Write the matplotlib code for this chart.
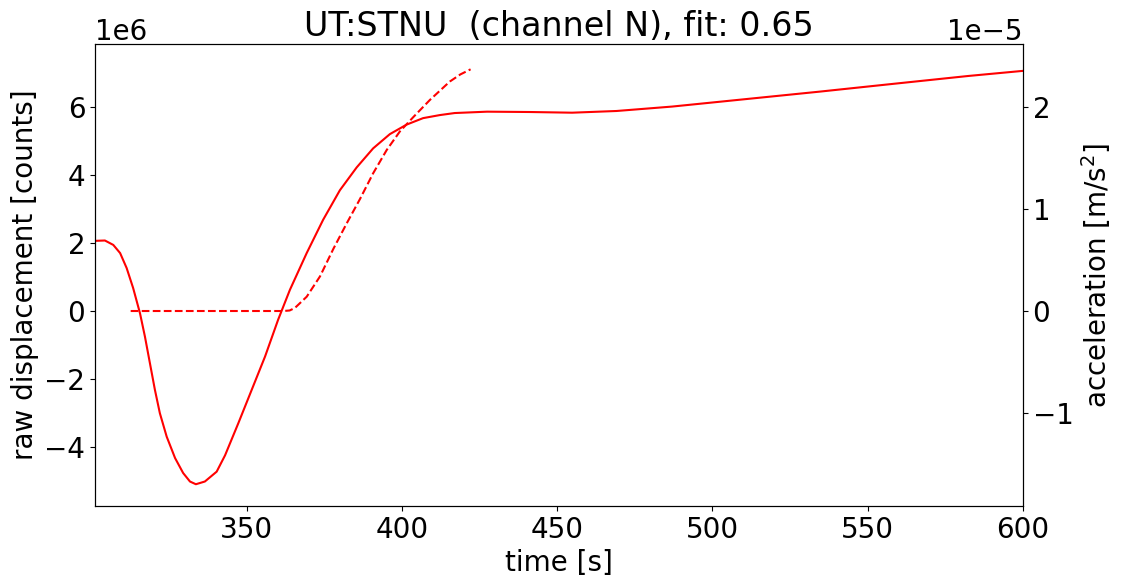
import matplotlib
matplotlib.use("Agg")
import numpy as np
import matplotlib.pyplot as plt

# --- DATA ---
# raw displacement trace, counts
disp_time = [301.1, 304.3, 307.0, 309.2, 311.3, 313.4, 315.6, 317.2, 318.8,
             320.4, 322.0, 324.2, 326.9, 329.5, 331.7, 333.6, 336.5, 340.3,
             343.0, 347.3, 351.6, 355.9, 360.1, 363.9, 369.3, 374.6, 380.0,
             385.4, 390.7, 396.1, 401.5, 406.8, 412.2, 417.0, 427.4, 441.2,
             454.8, 469.1, 487.0, 510.8, 534.6, 558.4, 582.4, 600.0]
disp_counts = [2.06e6, 2.07e6, 1.94e6, 1.70e6, 1.26e6, 0.67e6, -0.07e6,
               -0.76e6, -1.54e6, -2.32e6, -3.01e6, -3.70e6, -4.33e6, -4.77e6,
               -5.02e6, -5.10e6, -5.02e6, -4.73e6, -4.25e6, -3.30e6, -2.32e6,
               -1.34e6, -0.26e6, 0.62e6, 1.70e6, 2.68e6, 3.55e6, 4.22e6,
               4.78e6, 5.20e6, 5.48e6, 5.67e6, 5.76e6, 5.82e6, 5.86e6, 5.85e6,
               5.83e6, 5.88e6, 6.01e6, 6.23e6, 6.45e6, 6.68e6, 6.91e6, 7.06e6]

# fitted acceleration, m/s^2
acc_time = [312.6, 361.8, 363.8, 365.5, 369.3, 373.6, 377.9, 382.2, 386.5,
            390.7, 395.1, 399.3, 403.6, 409.0, 415.4, 418.8, 422.1]
acc_vals = [0.0, 0.0, 0.005e-5, 0.03e-5, 0.14e-5, 0.34e-5, 0.61e-5, 0.86e-5,
            1.10e-5, 1.35e-5, 1.58e-5, 1.76e-5, 1.90e-5, 2.07e-5, 2.25e-5,
            2.32e-5, 2.37e-5]

station = "UT:STNU"
channel = "N"
fit = 0.65

# --- PLOT ---
plt.rcParams['font.size'] = 20

fig, ax1 = plt.subplots(figsize=(11.24, 5.87), dpi=100)
fig.subplots_adjust(left=0.0845, right=0.910, top=0.925, bottom=0.138)

ax1.plot(disp_time, disp_counts, color='red', lw=1.5)
ax1.set_xlim(301.1, 600)
ax1.set_ylim(-5.74e6, 7.85e6)
ax1.set_xlabel('time [s]')
ax1.set_ylabel('raw displacement [counts]')

ax2 = ax1.twinx()
ax2.plot(acc_time, acc_vals, color='red', ls='--', lw=1.5)
ax2.set_ylim(-1.912e-5, 2.618e-5)
ax2.set_ylabel('acceleration [m/s$^2$]')

plt.title(f"{station}  (channel {channel}), fit: {fit:.2f}")

plt.savefig("out.png", dpi=100)
plt.close()
